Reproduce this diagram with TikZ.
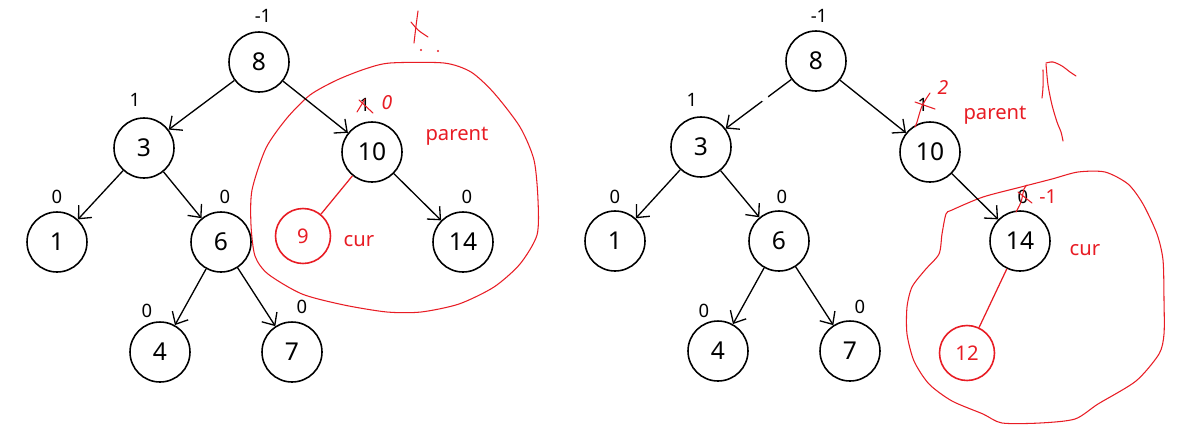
\documentclass[tikz,border=0pt]{standalone}
\usepackage{fontspec}
\setmainfont{Noto Sans}
\usetikzlibrary{arrows.meta}
\definecolor{inkred}{RGB}{232,28,36}
\begin{document}
\begin{tikzpicture}[x=0.02cm,y=-0.02cm,
  bnode/.style={circle,draw=black,line width=0.9pt,minimum size=1.2cm,inner sep=0pt,font=\fontsize{14}{16}\selectfont},
  rnode/.style={circle,draw=inkred,text=inkred,line width=0.9pt,minimum size=1.1cm,inner sep=0pt,font=\fontsize{11.5}{13}\selectfont},
  lbl/.style={font=\fontsize{10.5}{12}\selectfont,inner sep=0pt},
  rlbl/.style={text=inkred,font=\fontsize{11.5}{13}\selectfont,inner sep=0pt},
  hand/.style={text=inkred,font=\fontsize{11}{12}\selectfont\itshape,inner sep=0pt},
  arr/.style={-{Straight Barb[length=2mm,width=3.6mm]},line width=0.75pt},
  redl/.style={draw=inkred,line width=0.7pt},
  scrib/.style={draw=inkred,line width=0.6pt,line cap=round,line join=round}]
\useasboundingbox (0,0) rectangle (1200,434);
\fill[white] (0,0) rectangle (1200,434);

% ---------------- left tree ----------------
\draw[scrib] plot[smooth cycle,tension=0.45] coordinates {(310,95) (337,80) (365,69) (390,63) (444,63) (471,72) (494,93) (520,127) (534,160) (538,200) (537,235) (520,264) (494,287) (459,304) (421,312) (387,312) (344,305) (302,294) (268,274) (255,256) (251,225) (252,190) (266,148) (287,118)};

\node[bnode] (L8) at (259,62) {8};
\node[bnode] (L3) at (144,148) {3};
\node[bnode] (L10) at (372,152) {10};
\node[bnode] (L1) at (57,242) {1};
\node[bnode] (L6) at (221,242) {6};
\node[rnode] (L9) at (303,236) {9};
\node[bnode] (L14) at (463,242) {14};
\node[bnode] (L4) at (160,352) {4};
\node[bnode] (L7) at (292,352) {7};

\draw[arr] (L8) -- (L3);
\draw[arr] (L8) -- (L10);
\draw[arr] (L3) -- (L1);
\draw[arr] (L3) -- (L6);
\draw[arr] (L6) -- (L4);
\draw[arr] (L6) -- (L7);
\draw[arr] (L10) -- (L14);
\draw[redl] (L10) -- (L9);

\node[lbl] (lm1) at (263,16) {-1};
\node[lbl] (l3) at (135,100) {1};
\node[lbl] (l10) at (365,105) {1};
\node[lbl] (l1) at (57,197) {0};
\node[lbl] (l6) at (225,197) {0};
\node[lbl] (l14) at (467,197) {0};
\node[lbl] (l4) at (147,311) {0};
\node[lbl] (l7) at (302,307) {0};
\node[hand] (l10n) at (387,103) {0};
\node[rlbl] (lpar) at (457,136) {parent};
\node[rlbl] (lcur) at (359,241) {cur};

\draw[scrib] (357,112) -- (365,99);
\draw[scrib] (359,100) -- (373,113);
\draw[scrib] plot[smooth] coordinates {(418,11) (416,26) (414,43)};
\draw[scrib] plot[smooth] coordinates {(411,22) (418,30) (428,37)};
\fill[inkred] (421,50) circle (0.6pt);
\fill[inkred] (438,51) circle (0.6pt);

% ---------------- right tree ----------------
\draw[scrib] plot[smooth cycle,tension=0.45] coordinates {(952,210) (983,197) (1021,187) (1052,179) (1078,172) (1105,172) (1128,184) (1143,204) (1157,234) (1163,260) (1164,300) (1164,334) (1159,354) (1136,381) (1098,404) (1075,419) (1040,423) (1002,423) (983,414) (952,401) (929,384) (914,361) (907,334) (907,307) (912,287) (925,270) (939,254) (942,234) (946,214)};

\node[bnode] (R8) at (816,61) {8};
\node[bnode] (R3) at (701,147) {3};
\node[bnode] (R10) at (930,152) {10};
\node[bnode] (R1) at (615,241) {1};
\node[bnode] (R6) at (779,241) {6};
\node[bnode] (R14) at (1020,241) {14};
\node[bnode] (R4) at (718,351) {4};
\node[bnode] (R7) at (850,351) {7};
\node[rnode] (R12) at (967,353) {12};

\draw[arr] (R8) -- (R3);
\draw[white,line width=2pt] (762,100.4) -- (768,96.9);
\draw[arr] (R8) -- (R10);
\draw[arr] (R3) -- (R1);
\draw[arr] (R3) -- (R6);
\draw[arr] (R6) -- (R4);
\draw[arr] (R6) -- (R7);
\draw[arr] (R10) -- (R14);
\draw[redl] (R14) -- (R12);

\node[lbl] (rm1) at (819,16) {-1};
\node[lbl] (r3) at (692,100) {1};
\node[lbl] (r10) at (923,105) {1};
\node[lbl] (r1) at (615,197) {0};
\node[lbl] (r6) at (782,197) {0};
\node[lbl] (r14) at (1023,197) {0};
\node[lbl] (r4) at (704,311) {0};
\node[lbl] (r7) at (860,307) {0};
\node[hand] (r10n) at (943,87) {2};
\node[hand,font=\fontsize{11}{12}\selectfont] (r14n) at (1048,197) {-1};
\node[rlbl] (rpar) at (995,115) {parent};
\node[rlbl] (rcur) at (1085,250) {cur};

\draw[scrib] (915,102) -- (935,109);
\draw[scrib] plot[smooth] coordinates {(930,93) (922,106) (917,122) (915,127)};
\draw[scrib] plot[smooth] coordinates {(1016,212) (1021,202) (1024,189) (1027,185)};
\draw[scrib] (1018,192) -- (1032,203);
\draw[scrib] plot[smooth] coordinates {(1046,64) (1048,85) (1052,105) (1057,122) (1061,132) (1063,141)};
\draw[scrib] plot[smooth] coordinates {(1043,70) (1043,87) (1042,98)};
\draw[scrib] plot[smooth] coordinates {(1046,63) (1053,62) (1062,66) (1070,72) (1076,76)};
\end{tikzpicture}
\end{document}
